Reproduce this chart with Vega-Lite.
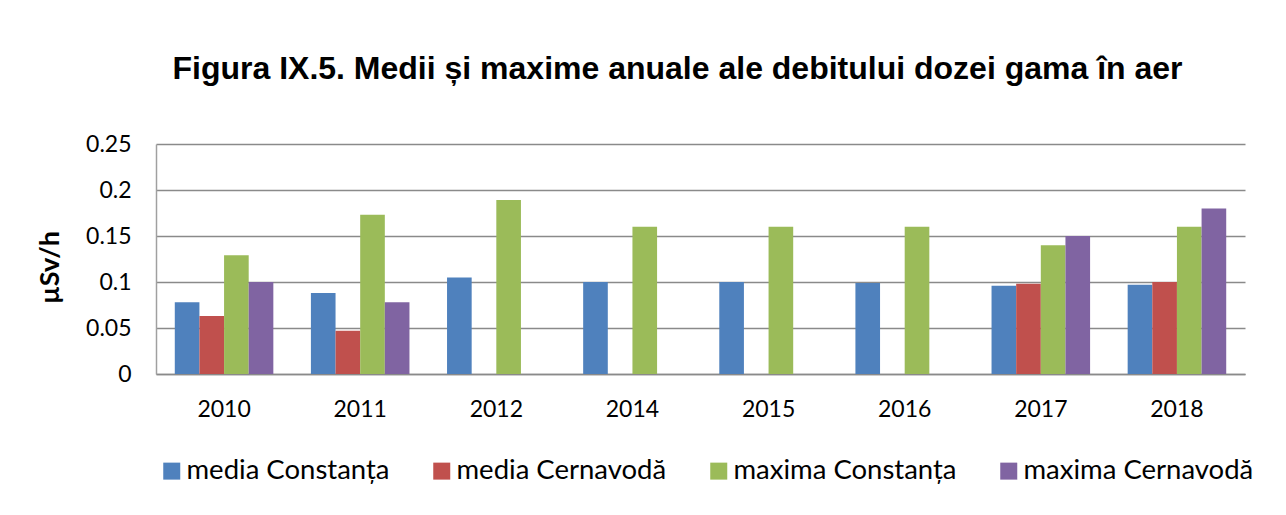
{
  "$schema": "https://vega.github.io/schema/vega-lite/v6.json",
  "autosize": "none",
  "width": 1089,
  "height": 230,
  "padding": {"left": 156, "top": 144, "right": 41, "bottom": 141},
  "background": "white",
  "title": {
    "text": "Figura IX.5. Medii și maxime anuale ale debitului dozei gama în aer",
    "font": "Liberation Sans",
    "fontSize": 32,
    "fontWeight": "bold",
    "color": "black",
    "anchor": "middle",
    "frame": "group",
    "baseline": "alphabetic",
    "offset": 22,
    "dx": -23
  },
  "data": {
    "values": [
      {"year": "2010", "series": "media Constanța", "value": 0.078},
      {"year": "2010", "series": "media Cernavodă", "value": 0.063},
      {"year": "2010", "series": "maxima Constanța", "value": 0.129},
      {"year": "2010", "series": "maxima Cernavodă", "value": 0.1},
      {"year": "2011", "series": "media Constanța", "value": 0.088},
      {"year": "2011", "series": "media Cernavodă", "value": 0.047},
      {"year": "2011", "series": "maxima Constanța", "value": 0.173},
      {"year": "2011", "series": "maxima Cernavodă", "value": 0.078},
      {"year": "2012", "series": "media Constanța", "value": 0.105},
      {"year": "2012", "series": "maxima Constanța", "value": 0.189},
      {"year": "2014", "series": "media Constanța", "value": 0.1},
      {"year": "2014", "series": "maxima Constanța", "value": 0.16},
      {"year": "2015", "series": "media Constanța", "value": 0.1},
      {"year": "2015", "series": "maxima Constanța", "value": 0.16},
      {"year": "2016", "series": "media Constanța", "value": 0.099},
      {"year": "2016", "series": "maxima Constanța", "value": 0.16},
      {"year": "2017", "series": "media Constanța", "value": 0.096},
      {"year": "2017", "series": "media Cernavodă", "value": 0.098},
      {"year": "2017", "series": "maxima Constanța", "value": 0.14},
      {"year": "2017", "series": "maxima Cernavodă", "value": 0.15},
      {"year": "2018", "series": "media Constanța", "value": 0.097},
      {"year": "2018", "series": "media Cernavodă", "value": 0.1},
      {"year": "2018", "series": "maxima Constanța", "value": 0.16},
      {"year": "2018", "series": "maxima Cernavodă", "value": 0.18}
    ]
  },
  "mark": {"type": "bar"},
  "encoding": {
    "x": {
      "field": "year",
      "type": "nominal",
      "sort": ["2010", "2011", "2012", "2014", "2015", "2016", "2017", "2018"],
      "scale": {"paddingInner": 0.276, "paddingOuter": 0.138},
      "axis": {
        "title": null,
        "labelAngle": 0,
        "labelFont": "Lato",
        "labelFontSize": 23,
        "labelColor": "black",
        "labelPadding": 24,
        "ticks": false,
        "tickSize": 0,
        "domainColor": "#8a8a8a",
        "domainWidth": 1.5,
        "grid": false
      }
    },
    "xOffset": {
      "field": "series",
      "type": "nominal",
      "scale": {"domain": ["media Constanța", "media Cernavodă", "maxima Constanța", "maxima Cernavodă"], "paddingInner": 0, "paddingOuter": 0}
    },
    "y": {
      "field": "value",
      "type": "quantitative",
      "scale": {"domain": [0, 0.25], "nice": false},
      "axis": {
        "title": "µSv/h",
        "titleFont": "Lato",
        "titleFontSize": 27,
        "titleFontWeight": "bold",
        "titleColor": "black",
        "titleX": -106,
        "titleY": 123,
        "titleBaseline": "middle",
        "titleAngle": -90,
        "values": [0, 0.05, 0.1, 0.15, 0.2, 0.25],
        "labelExpr": "datum.value == 0 ? '0' : format(datum.value, '.2~f')",
        "labelFont": "Lato",
        "labelFontSize": 23,
        "labelColor": "black",
        "labelPadding": 25,
        "ticks": false,
        "tickSize": 0,
        "domainColor": "#a0a0a0",
        "domainWidth": 1.5,
        "gridColor": "#8a8a8a",
        "gridWidth": 1.5,
        "gridOpacity": 1
      }
    },
    "color": {
      "field": "series",
      "type": "nominal",
      "scale": {
        "domain": ["media Constanța", "media Cernavodă", "maxima Constanța", "maxima Cernavodă"],
        "range": ["#4F81BD", "#C0504D", "#9BBB59", "#8064A2"]
      },
      "legend": {
        "title": null,
        "orient": "none",
        "direction": "horizontal",
        "legendX": 2,
        "legendY": 313,
        "symbolType": "square",
        "symbolSize": 289,
        "symbolStrokeWidth": 0,
        "symbolOpacity": 1,
        "labelFont": "Lato",
        "labelFontSize": 27.5,
        "labelColor": "black",
        "labelOffset": 1,
        "labelLimit": 400,
        "columnPadding": 38
      }
    }
  },
  "config": {
    "view": {"stroke": null}
  }
}
